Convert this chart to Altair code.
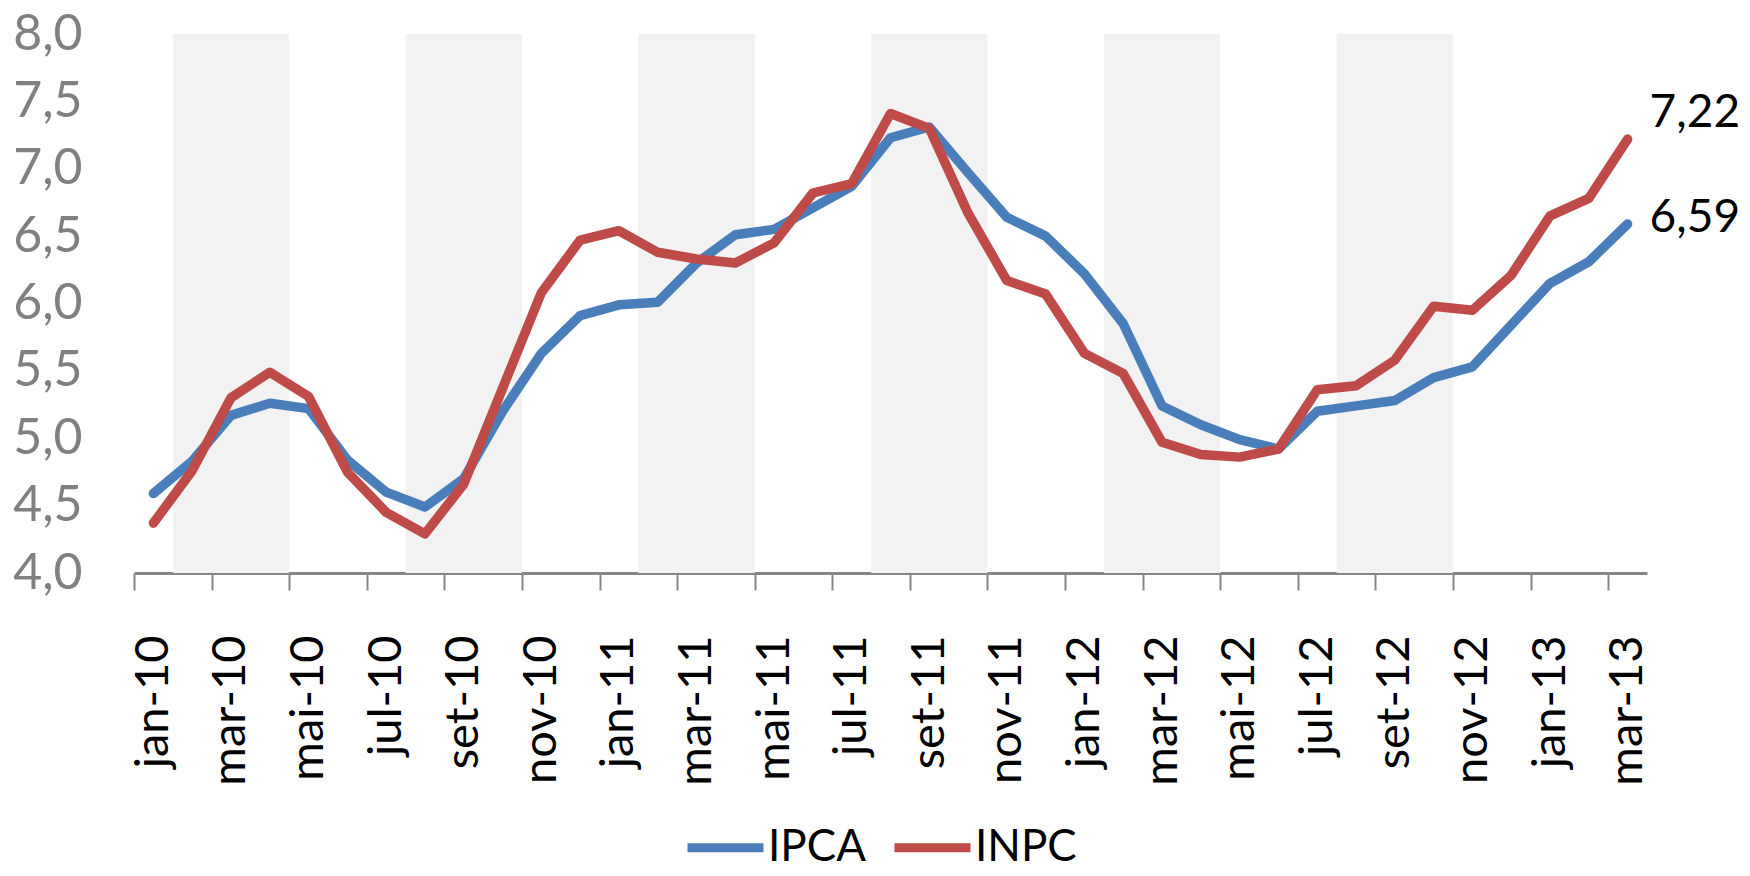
import altair as alt
import pandas as pd

months = ["jan-10", "fev-10", "mar-10", "abr-10", "mai-10", "jun-10", "jul-10", "ago-10",
          "set-10", "out-10", "nov-10", "dez-10",
          "jan-11", "fev-11", "mar-11", "abr-11", "mai-11", "jun-11", "jul-11", "ago-11",
          "set-11", "out-11", "nov-11", "dez-11",
          "jan-12", "fev-12", "mar-12", "abr-12", "mai-12", "jun-12", "jul-12", "ago-12",
          "set-12", "out-12", "nov-12", "dez-12",
          "jan-13", "fev-13", "mar-13"]

ipca = [4.59, 4.83, 5.17, 5.26, 5.22, 4.84, 4.60, 4.49, 4.70, 5.20, 5.63, 5.91,
        5.99, 6.01, 6.30, 6.51, 6.55, 6.71, 6.87, 7.23, 7.31, 6.97, 6.64, 6.50,
        6.22, 5.85, 5.24, 5.10, 4.99, 4.92, 5.20, 5.24, 5.28, 5.45, 5.53, 5.84,
        6.15, 6.31, 6.59]

inpc = [4.37, 4.76, 5.30, 5.49, 5.31, 4.75, 4.45, 4.29, 4.66, 5.37, 6.08, 6.47,
        6.54, 6.38, 6.33, 6.30, 6.45, 6.82, 6.89, 7.41, 7.30, 6.67, 6.17, 6.07,
        5.63, 5.48, 4.97, 4.88, 4.86, 4.92, 5.36, 5.39, 5.58, 5.98, 5.95, 6.21,
        6.65, 6.78, 7.22]

series_names = ["IPCA", "INPC"]
series_colors = ["#4A7EBB", "#BE4B48"]

# shaded bands (category index boundaries)
band_start = [0.5, 6.5, 12.5, 18.5, 24.5, 30.5]
band_end = [3.5, 9.5, 15.5, 21.5, 27.5, 33.5]

y_ticks = [4.0, 4.5, 5.0, 5.5, 6.0, 6.5, 7.0, 7.5, 8.0]
x_tick_pos = [-0.5, 1.5, 3.5, 5.5, 7.5, 9.5, 11.5, 13.5, 15.5, 17.5, 19.5,
              21.5, 23.5, 25.5, 27.5, 29.5, 31.5, 33.5, 35.5, 37.5]

W, H = 1513, 539
FONT = "Lato"
FS = 46

rows = []
for i, m in enumerate(months):
    rows.append({"i": i, "mes": m, "serie": "IPCA", "v": ipca[i]})
    rows.append({"i": i, "mes": m, "serie": "INPC", "v": inpc[i]})
df = pd.DataFrame(rows)

bands = pd.DataFrame({"s": band_start, "e": band_end})

last = len(months) - 1
labels = pd.DataFrame({
    "i": [last, last],
    "serie": ["IPCA", "INPC"],
    "v": [ipca[-1], inpc[-1]],
    "txt": [f"{ipca[-1]:.2f}".replace(".", ","), f"{inpc[-1]:.2f}".replace(".", ",")],
})

month_arr = "[" + ",".join(f"'{m}'" for m in months) + "]"

x_scale = alt.Scale(domain=[-0.5, len(months) - 0.5], nice=False, zero=False)
y_scale = alt.Scale(domain=[4, 8], nice=False, zero=False)

x_axis = alt.Axis(
    values=x_tick_pos,
    labelExpr=f"{month_arr}[round(datum.value + 0.5)]",
    labelAngle=270,
    labelOffset=W / len(months) / 2,
    labelFontSize=47, labelFont=FONT, labelColor="black",
    labelPadding=45, labelFlush=False, labelOverlap=False, labelBound=False,
    tickSize=17, tickColor="#868686", tickWidth=2,
    domainColor="#868686", domainWidth=3,
    grid=False, title=None,
)
y_axis = alt.Axis(
    values=y_ticks,
    labelExpr="replace(format(datum.value, '.1f'), '.', ',')",
    labelFontSize=50, labelFont=FONT, labelColor="#808080",
    labelPadding=52, labelFlush=False, labelOverlap=False,
    domain=False, ticks=False, tickSize=0, grid=False, title=None,
)

color = alt.Color(
    "serie:N",
    scale=alt.Scale(domain=series_names, range=series_colors),
    legend=alt.Legend(
        orient="none", legendX=549, legendY=771, direction="horizontal",
        title=None, symbolType="stroke", symbolSize=5776, symbolStrokeWidth=9,
        labelFontSize=44, labelFont=FONT, labelColor="black", labelOffset=0,
        columnPadding=10,
    ),
)

band_layer = alt.Chart(bands).mark_rect(color="#F2F2F2").encode(
    x=alt.X("s:Q", scale=x_scale, axis=x_axis),
    x2="e:Q",
    y=alt.Y(datum=4, scale=y_scale, axis=y_axis),
    y2=alt.Y2(datum=8),
)

def line_layer(name):
    return alt.Chart(df).transform_filter(alt.datum.serie == name).mark_line(
        strokeWidth=9.5, strokeCap="round", strokeJoin="round"
    ).encode(
        x=alt.X("i:Q", scale=x_scale, axis=x_axis),
        y=alt.Y("v:Q", scale=y_scale, axis=y_axis),
        color=color,
        order="i:Q",
    )

def text_layer(name, dy):
    return alt.Chart(labels).transform_filter(alt.datum.serie == name).mark_text(
        align="left", baseline="middle", dx=22, dy=dy,
        fontSize=FS, font=FONT, color="black",
    ).encode(
        x=alt.X("i:Q", scale=x_scale),
        y=alt.Y("v:Q", scale=y_scale),
        text="txt:N",
    )

chart = alt.layer(
    band_layer,
    line_layer("IPCA"),
    line_layer("INPC"),
    text_layer("IPCA", -6),
    text_layer("INPC", -26),
).properties(
    width=W, height=H,
    background="white",
    autosize=alt.AutoSizeParams(type="none"),
    padding={"left": 126, "top": 26, "right": 95, "bottom": 293},
).configure_view(stroke=None)

chart.save("out.html", embed_options={"renderer": "svg", "actions": False})
